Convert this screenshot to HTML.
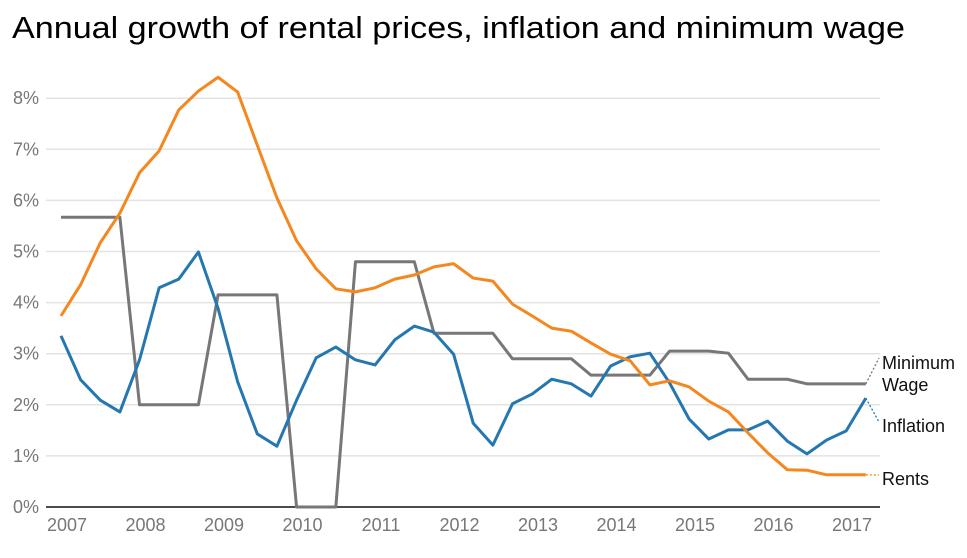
<!DOCTYPE html>
<html><head><meta charset="utf-8">
<style>
html,body{margin:0;padding:0;background:#fff;width:967px;height:558px;overflow:hidden;}
svg text{font-family:"Liberation Sans",Arial,sans-serif;}
</style></head>
<body>
<svg id="chart" width="967" height="558">
<text x="12" y="38" font-size="31" fill="#000" textLength="893" lengthAdjust="spacingAndGlyphs">Annual growth of rental prices, inflation and minimum wage</text>
<g id="grid"></g><g id="lines"></g><g id="labels"></g>
</svg>
<script>
const years = ["2007","2008","2009","2010","2011","2012","2013","2014","2015","2016","2017"];
const yTicks = [0,1,2,3,4,5,6,7,8];
const rents = [3.74,4.35,5.17,5.75,6.54,6.97,7.77,8.14,8.41,8.12,7.08,6.05,5.21,4.66,4.27,4.21,4.29,4.46,4.54,4.70,4.76,4.48,4.42,3.97,3.74,3.50,3.44,3.21,2.99,2.86,2.39,2.47,2.35,2.07,1.86,1.45,1.06,0.73,0.72,0.63,0.63,0.63];
const inflation = [3.35,2.49,2.09,1.86,2.88,4.29,4.46,4.99,3.89,2.45,1.43,1.19,2.09,2.92,3.13,2.88,2.78,3.27,3.54,3.42,2.99,1.64,1.21,2.02,2.21,2.50,2.41,2.17,2.76,2.94,3.01,2.43,1.72,1.33,1.51,1.51,1.68,1.29,1.04,1.31,1.49,2.13];
const minWage = [5.67,5.67,5.67,5.67,2.0,2.0,2.0,2.0,4.15,4.15,4.15,4.15,0,0,0,4.8,4.8,4.8,4.8,3.4,3.4,3.4,3.4,2.9,2.9,2.9,2.9,2.58,2.58,2.58,2.58,3.05,3.05,3.05,3.01,2.5,2.5,2.5,2.41,2.41,2.41,2.41];

const NS="http://www.w3.org/2000/svg";
const x = i => 61 + i*19.63;
const xYear = k => 67 + k*78.5;
const y = v => 507 - v*51.1;
function mk(tag, attrs, parent){const e=document.createElementNS(NS,tag);for(const k in attrs)e.setAttribute(k,attrs[k]);parent.appendChild(e);return e;}
const grid=document.getElementById('grid'), lines=document.getElementById('lines'), labels=document.getElementById('labels');

yTicks.forEach(t=>{
  if(t>0){
    const g=mk('line',{x1:46,x2:880,y1:y(t),y2:y(t),stroke:'#e3e3e3','stroke-width':1.5},grid);
    
    
  }
  const tx=mk('text',{x:39,y:y(t)+6,'font-size':18,fill:'#777','text-anchor':'end'},grid);
  tx.textContent=t+'%';
  
  
});
const ax=mk('line',{x1:46,x2:880,y1:y(0),y2:y(0),stroke:'#111','stroke-width':1.5},grid);


years.forEach((yr,k)=>{
  const tx=mk('text',{x:xYear(k),y:531,'font-size':18,fill:'#777','text-anchor':'middle'},grid);
  tx.textContent=yr;
  
  
});

function series(data,color,name){
  const p=mk('polyline',{points:data.map((v,i)=>x(i)+','+y(v)).join(' '),fill:'none',stroke:color,'stroke-width':3,'stroke-linejoin':'round'},lines);
  
  
}
series(minWage,'#777777','minimum-wage-line');
series(inflation,'#2577b0','inflation-line');
series(rents,'#f5871f','rents-line');

const last=rents.length-1, lx=x(last);
function lab(text,ty,name){
  const t=mk('text',{x:882,y:ty,'font-size':18,fill:'#111'},labels);
  t.textContent=text;
  
  
}
function conn(v,ty,color,name){
  const c=mk('line',{x1:lx,y1:y(v),x2:879,y2:ty,stroke:color,'stroke-width':1.3,'stroke-dasharray':'2,2'},labels);
  
  
}
conn(minWage[last],358,'#777','minimum-wage-connector');
conn(inflation[last],422,'#2577b0','inflation-connector');
conn(rents[last],475,'#f5871f','rents-connector');
lab('Minimum',369,'minimum-wage-label-line1');
lab('Wage',391,'minimum-wage-label-line2');
lab('Inflation',432,'inflation-label');
lab('Rents',485,'rents-label');
</script>
</body></html>
